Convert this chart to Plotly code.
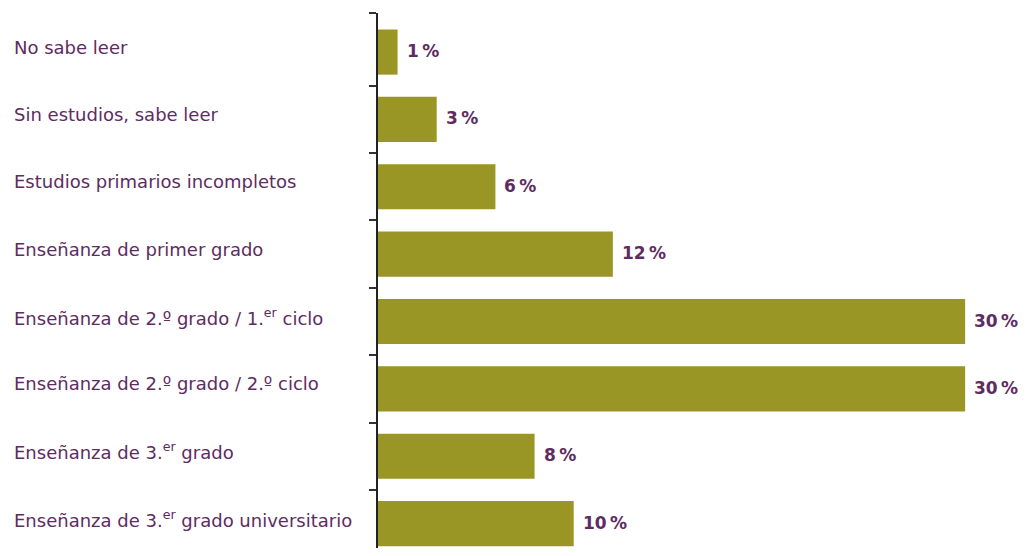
import plotly.graph_objects as go

categories = [
    "No sabe leer",
    "Sin estudios, sabe leer",
    "Estudios primarios incompletos",
    "Enseñanza de primer grado",
    "Enseñanza de 2.º grado / 1.<sup>er</sup> ciclo",
    "Enseñanza de 2.º grado / 2.º ciclo",
    "Enseñanza de 3.<sup>er</sup> grado",
    "Enseñanza de 3.<sup>er</sup> grado universitario",
]
values = [1, 3, 6, 12, 30, 30, 8, 10]
value_labels = ["1\u2009%", "3\u2009%", "6\u2009%", "12\u2009%", "30\u2009%", "30\u2009%", "8\u2009%", "10\u2009%"]

BAR = "#9a9626"
PURPLE = "#5e2c61"
FONT = "DejaVu Sans, Liberation Sans, sans-serif"

idx = list(range(len(categories)))
y_range = [7.362, -0.58]
boundaries = [y_range[1]] + [i + 0.5 for i in idx[:-1]] + [7.5]

fig = go.Figure()
fig.add_trace(go.Bar(
    x=values, y=idx, orientation="h",
    marker=dict(color=BAR, line=dict(width=0)),
    width=0.67, hoverinfo="skip",
))
# invisible trace to carry the tick axis
fig.add_trace(go.Scatter(x=[0], y=[0], yaxis="y2", mode="markers",
                         marker=dict(opacity=0), hoverinfo="skip"))

annotations = []
for i, (c, v, t) in enumerate(zip(categories, values, value_labels)):
    annotations.append(dict(
        x=0, xref="paper", xshift=-366, y=i, yref="y", yshift=5,
        text=c, showarrow=False, xanchor="left", yanchor="middle",
        font=dict(family=FONT, size=18, color=PURPLE),
    ))
    annotations.append(dict(
        x=v, xref="x", y=i, yref="y", xshift=7, yshift=1,
        text="<b>" + t + "</b>", showarrow=False, xanchor="left", yanchor="middle",
        font=dict(family=FONT, size=17, color=PURPLE),
    ))

fig.update_layout(
    width=1018, height=540,
    margin=dict(l=370, r=0, t=5, b=0),
    paper_bgcolor="white", plot_bgcolor="white",
    showlegend=False,
    bargap=0.33,
    xaxis=dict(range=[0, 33.11], visible=False, fixedrange=True),
    yaxis=dict(range=y_range, showticklabels=False, showgrid=False,
               zeroline=False, showline=False, ticks=""),
    yaxis2=dict(overlaying="y", side="left", range=y_range,
                tickmode="array", tickvals=boundaries, showticklabels=False,
                ticks="outside", ticklen=7, tickwidth=1.5, tickcolor="#333333",
                showline=True, linecolor="#222222", linewidth=1.5,
                showgrid=False, zeroline=False),
    annotations=annotations,
)

fig.write_html("out.html")
